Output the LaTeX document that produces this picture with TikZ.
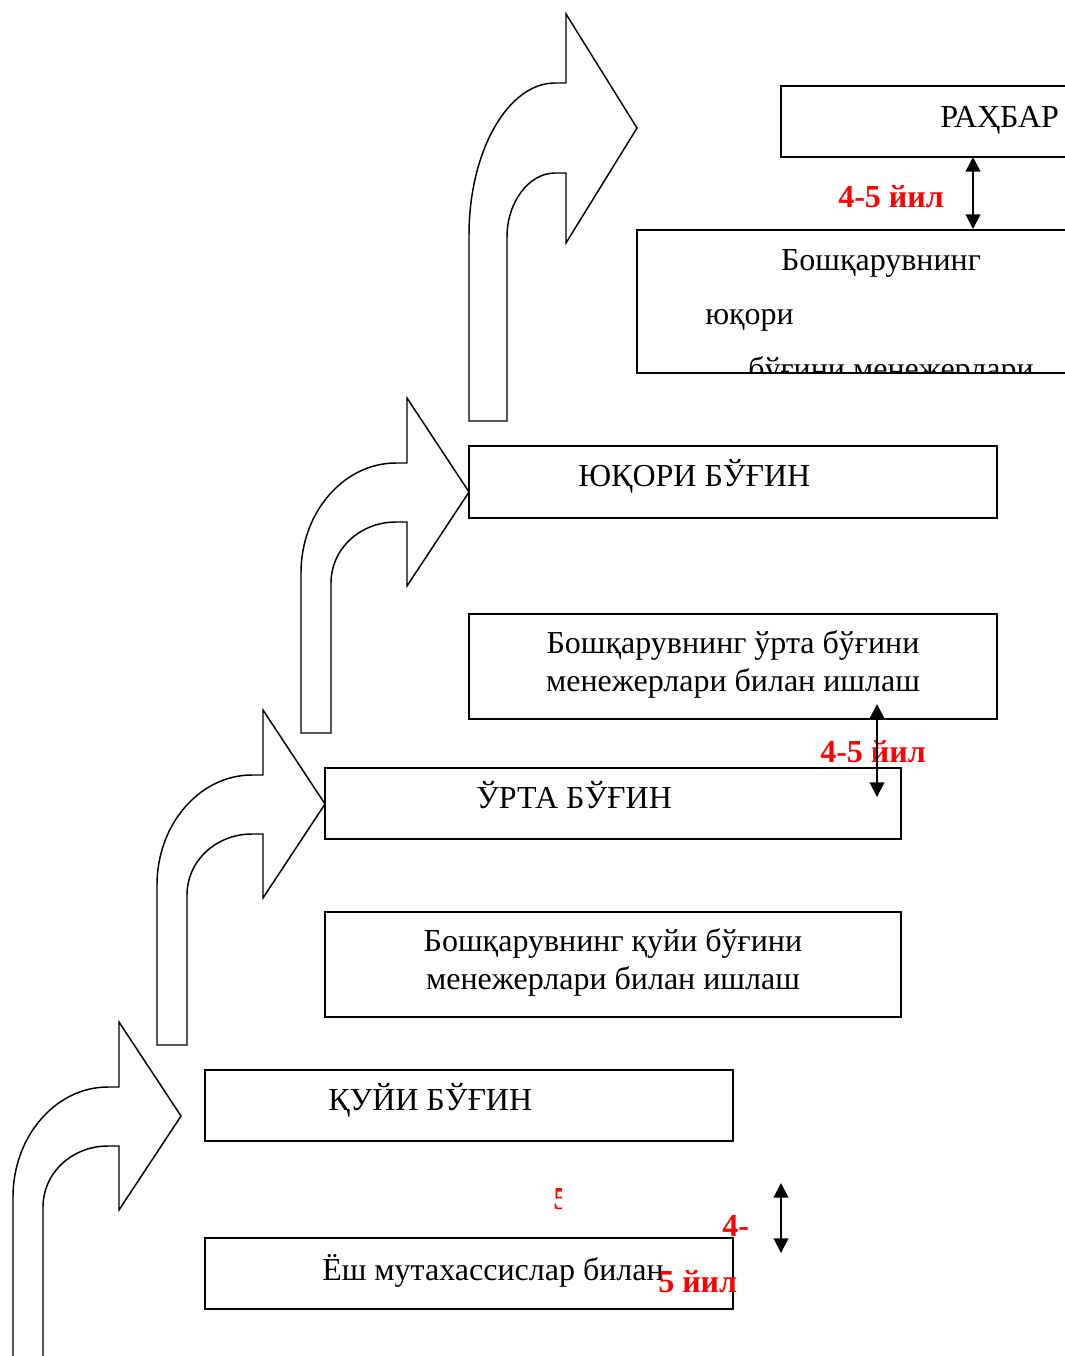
\documentclass[tikz,border=0pt]{standalone}
\usepackage{fontspec}
\setmainfont{Liberation Serif}
\usetikzlibrary{arrows.meta}
\begin{document}
\begin{tikzpicture}[x=0.75pt,y=-0.75pt,
  box/.style={draw,line width=1.2pt,inner sep=0pt,outer sep=0pt},
  txt/.style={inner sep=0pt,font=\fontsize{24}{29}\selectfont},
  red/.style={inner sep=0pt,text=red,font=\fontsize{24}{29}\selectfont\bfseries},
  bigarrow/.style={draw,line width=1.1pt,fill=white,line join=miter},
  dbl/.style={line width=1.5pt,{Triangle[width=11pt,length=11pt]}-{Triangle[width=11pt,length=11pt]}}]
\useasboundingbox (0,0) rectangle (1064,1356);

% curved block arrows
\foreach \dx/\dy in {0/0,144/-312,288/-624}{
  \draw[bigarrow,shift={(\dx*0.75pt,-\dy*0.75pt)}]
    (13,1357) -- (13,1197) .. controls (13,1136) and (56,1087) .. (108,1087)
    -- (119,1087) -- (119,1022) -- (181,1116) -- (119,1210) -- (119,1146)
    -- (108,1146) .. controls (72,1146) and (43,1173) .. (43,1207) -- (43,1357) -- cycle;
}
\draw[bigarrow]
  (469,421) -- (469,235) .. controls (469,151) and (508,83) .. (555,83)
  -- (566,83) -- (566,14) -- (637,128) -- (566,243) -- (566,173)
  -- (555,173) .. controls (529,173) and (507,202) .. (507,237) -- (507,421) -- cycle;

% boxes
\node[box,minimum width=254.25pt,minimum height=53.25pt] (rahbar) at (950.5,121.5) {};
\node[box,minimum width=362.25pt,minimum height=107.25pt] (boshtop) at (878.5,301.5) {};
\node[box,minimum width=396pt,minimum height=54pt] (yuqori) at (733,482) {};
\node[box,minimum width=396pt,minimum height=78.75pt] (urtabosh) at (733,666.5) {};
\node[box,minimum width=432pt,minimum height=53.25pt] (urta) at (613,803.5) {};
\node[box,minimum width=432pt,minimum height=78.75pt] (quyibosh) at (613,964.5) {};
\node[box,minimum width=396pt,minimum height=53.25pt] (quyi) at (469,1105.5) {};
\node[box,minimum width=396pt,minimum height=53.25pt] (yosh) at (469,1273.5) {};

% texts
\node[txt,anchor=base west] (trahbar) at (940,127) {РАҲБАР};
\node[txt,anchor=base] (tbosh1) at (881,270) {Бошқарувнинг};
\node[txt,anchor=base west] (tbosh2) at (705,324) {юқори};
\begin{scope}
  \clip (637,300) rectangle (1064,373);
  \node[txt,anchor=base west] (tbosh3) at (748,379) {бўғини менежерлари};
\end{scope}
\node[txt,anchor=base west] (tyuqori) at (578,486) {ЮҚОРИ БЎҒИН};
\node[txt,anchor=base] (turta1) at (733,653) {Бошқарувнинг ўрта бўғини};
\node[txt,anchor=base] (turta2) at (733,691) {менежерлари билан ишлаш};
\node[txt,anchor=base west] (turta) at (476,808) {ЎРТА БЎҒИН};
\node[txt,anchor=base] (tquyi1) at (613,951) {Бошқарувнинг қуйи бўғини};
\node[txt,anchor=base] (tquyi2) at (613,989) {менежерлари билан ишлаш};
\node[txt,anchor=base west] (tquyi) at (328,1110) {ҚУЙИ БЎҒИН};
\node[txt,anchor=base west] (tyosh) at (322,1280) {Ёш мутахассислар билан};

% red labels
\node[red,anchor=base west] (r1) at (838,207) {4-5 йил};
\node[red,anchor=base west] (r2) at (820,762) {4-5 йил};
\begin{scope}
  \clip (540,1170) rectangle (561,1230);
  \node[red,anchor=base west] (r3a) at (553,1209) {5};
\end{scope}
\node[red,anchor=base west] (r3b) at (722,1236) {4-};
\node[red,anchor=base west] (r3c) at (658,1292) {5 йил};

% double arrows
\coordinate (a1s) at (973,157);
\coordinate (a1e) at (973,229);
\coordinate (a2s) at (877,704);
\coordinate (a2e) at (877,797);
\coordinate (a3s) at (781,1183);
\coordinate (a3e) at (781,1253);
\draw[dbl] (a1s) -- (a1e);
\draw[dbl] (a2s) -- (a2e);
\draw[dbl] (a3s) -- (a3e);
\end{tikzpicture}
\end{document}
